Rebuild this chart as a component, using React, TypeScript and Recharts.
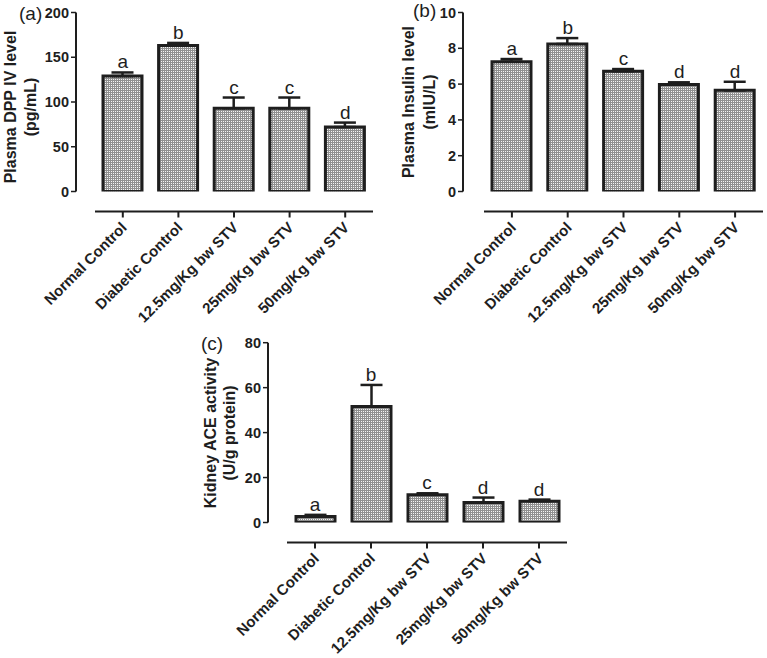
import React from 'react';
import { ComposedChart, Bar, XAxis, YAxis, ErrorBar, Scatter } from 'recharts';

const categories = [
  'Normal Control',
  'Diabetic Control',
  '12.5mg/Kg bw STV',
  '25mg/Kg bw STV',
  '50mg/Kg bw STV',
];

const dppValues = [129, 163, 93, 93, 72];
const dppErrors = [4, 3, 12, 12, 5];
const dppLetters = ['a', 'b', 'c', 'c', 'd'];
const dppTicks = [0, 50, 100, 150, 200];

const insulinValues = [7.25, 8.24, 6.72, 5.98, 5.65];
const insulinErrors = [0.15, 0.33, 0.12, 0.12, 0.48];
const insulinLetters = ['a', 'b', 'c', 'd', 'd'];
const insulinTicks = [0, 2, 4, 6, 8, 10];

const aceValues = [2.7, 51.6, 12.3, 8.9, 9.5];
const aceErrors = [0.7, 9.6, 0.7, 2.2, 0.7];
const aceLetters = ['a', 'b', 'c', 'd', 'd'];
const aceTicks = [0, 20, 40, 60, 80];

const FONT = '"Liberation Sans", Arial, Helvetica, sans-serif';
const INK = '#1e1e1e';

function buildRows(values: number[], errors: number[], letters: string[]) {
  return categories.map((c, i) => ({
    name: c,
    value: values[i],
    err: [0, errors[i]],
    top: values[i] + errors[i],
    letter: letters[i],
  }));
}

const dppRows = buildRows(dppValues, dppErrors, dppLetters);
const insulinRows = buildRows(insulinValues, insulinErrors, insulinLetters);
const aceRows = buildRows(aceValues, aceErrors, aceLetters);

const CategoryTick = (props: any) => {
  const { x, y, payload } = props;
  const ax = x + 5;
  const ay = y + 29;
  return (
    <text
      x={ax}
      y={ay}
      textAnchor="end"
      transform={`rotate(-45 ${ax} ${ay})`}
      fontSize={15}
      fontWeight="bold"
      fill={INK}
      fontFamily={FONT}
    >
      {payload.value}
    </text>
  );
};

const LetterShape = (props: any) => {
  const { cx, cy, payload } = props;
  return (
    <text x={cx} y={cy - 4} textAnchor="middle" fontSize={19} fill={INK} fontFamily={FONT}>
      {payload.letter}
    </text>
  );
};

type PanelProps = {
  rows: any[];
  ticks: number[];
  domain: [number, number];
  width: number;
  height: number;
  margin: { top: number; right: number; bottom: number; left: number };
  yAxisWidth: number;
  padLeft: number;
};

function Panel({ rows, ticks, domain, width, height, margin, yAxisWidth, padLeft }: PanelProps) {
  return (
    <ComposedChart width={width} height={height} data={rows} margin={margin}>
      <XAxis
        dataKey="name"
        type="category"
        padding={{ left: padLeft, right: 0 }}
        height={120}
        interval={0}
        axisLine={{ stroke: INK, strokeWidth: 2, transform: 'translate(0,20)', strokeDasharray: `0 ${padLeft} 3000` } as any}
        tickLine={{ stroke: INK, strokeWidth: 2, transform: 'translate(0,20)' } as any}
        tickSize={6}
        tick={<CategoryTick />}
      />
      <YAxis
        type="number"
        domain={domain}
        ticks={ticks}
        width={yAxisWidth}
        interval={0}
        allowDataOverflow
        axisLine={{ stroke: INK, strokeWidth: 2 }}
        tickLine={{ stroke: INK, strokeWidth: 1.5 }}
        tickSize={5}
        tickMargin={2}
        tick={{ fontSize: 14.5, fontWeight: 'bold', fill: INK, fontFamily: FONT }}
      />
      <Bar dataKey="value" barSize={39} fill="url(#chk)" stroke={INK} strokeWidth={3} isAnimationActive={false}>
        <ErrorBar dataKey="err" width={11} stroke={INK} strokeWidth={2.5} direction="y" />
      </Bar>
      <Scatter dataKey="top" shape={<LetterShape />} isAnimationActive={false} />
    </ComposedChart>
  );
}

export default function App() {
  return (
    <div
      style={{
        position: 'absolute',
        left: 0,
        top: 0,
        width: 767,
        height: 658,
        background: '#ffffff',
        fontFamily: FONT,
        overflow: 'hidden',
      }}
    >
      <svg width={0} height={0} style={{ position: 'absolute' }}>
        <defs>
          <pattern id="chk" width="2" height="2" patternUnits="userSpaceOnUse">
            <rect width="2" height="2" fill="#909090" />
            <rect x="1" y="1" width="1" height="1" fill="#f4f4f4" />
          </pattern>
        </defs>
      </svg>

      <div style={{ position: 'absolute', left: 0, top: 0 }}>
        <Panel
          rows={dppRows}
          ticks={dppTicks}
          domain={[0, 200]}
          width={380}
          height={330}
          margin={{ top: 12.5, right: 7, bottom: 18.5, left: 0 }}
          yAxisWidth={76}
          padLeft={19}
        />
      </div>

      <div style={{ position: 'absolute', left: 380, top: 0 }}>
        <Panel
          rows={insulinRows}
          ticks={insulinTicks}
          domain={[0, 10]}
          width={387}
          height={330}
          margin={{ top: 12.5, right: 4, bottom: 18.5, left: 0 }}
          yAxisWidth={83}
          padLeft={21}
        />
      </div>

      <div style={{ position: 'absolute', left: 190, top: 330 }}>
        <Panel
          rows={aceRows}
          ticks={aceTicks}
          domain={[0, 80]}
          width={390}
          height={328}
          margin={{ top: 12.7, right: 13, bottom: 15.5, left: 0 }}
          yAxisWidth={78}
          padLeft={19}
        />
      </div>

      <svg
        width={767}
        height={658}
        style={{ position: 'absolute', left: 0, top: 0, pointerEvents: 'none' }}
        fontFamily={FONT}
        fill={INK}
      >
        <text x={19} y={20} fontSize={19}>(a)</text>
        <text x={413} y={17} fontSize={19}>(b)</text>
        <text x={201} y={350} fontSize={19}>(c)</text>

        <g fontSize={16} fontWeight="bold" textAnchor="middle">
          <text x={10} y={107} dominantBaseline="central" transform="rotate(-90 10 107)">Plasma DPP IV level</text>
          <text x={30} y={107} dominantBaseline="central" transform="rotate(-90 30 107)">(pg/mL)</text>

          <text x={408} y={102} dominantBaseline="central" transform="rotate(-90 408 102)">Plasma Insulin level</text>
          <text x={429} y={102} dominantBaseline="central" transform="rotate(-90 429 102)">(mIU/L)</text>

          <text x={210} y={433} dominantBaseline="central" transform="rotate(-90 210 433)">Kidney ACE activity</text>
          <text x={229} y={433} dominantBaseline="central" transform="rotate(-90 229 433)">(U/g protein)</text>
        </g>
      </svg>
    </div>
  );
}
